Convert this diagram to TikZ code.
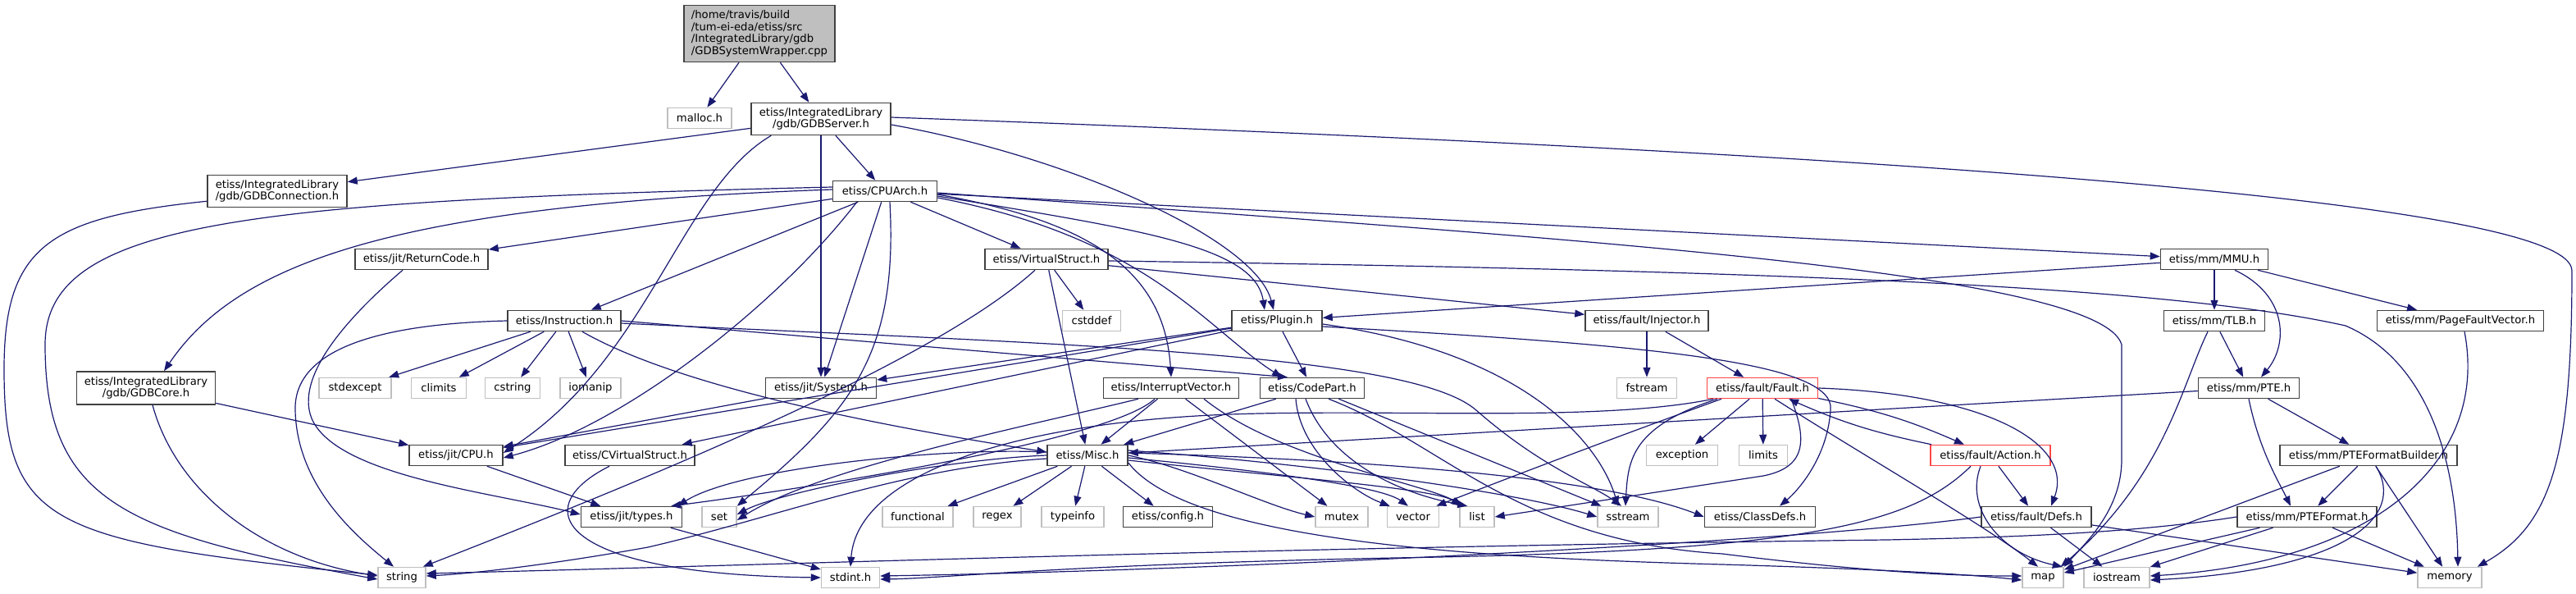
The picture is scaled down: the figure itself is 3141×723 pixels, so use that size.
\documentclass[tikz,border=0pt]{standalone}
\usepackage{fontspec}
\setmainfont{DejaVu Sans}
\usepackage{tikz}
\usetikzlibrary{arrows.meta}
\definecolor{dxblue}{RGB}{25,25,112}
\definecolor{rand}{RGB}{64,64,64}
\definecolor{sysrand}{RGB}{191,191,191}
\definecolor{wurzel}{RGB}{191,191,191}
\definecolor{trunc}{RGB}{255,70,70}
\tikzset{
  hdr/.style={draw=rand, fill=white, line width=1.5pt, minimum height=25pt,
              inner xsep=3pt, inner ysep=2pt, align=center,
              font=\fontsize{13.2}{14.6}\selectfont},
  sys/.style={hdr, draw=sysrand},
  trunchdr/.style={hdr, draw=trunc},
  dep/.style={draw=dxblue, line width=1.2pt, -{Triangle[length=12pt,width=9pt]}},
}

\begin{document}
\begin{tikzpicture}[x=1pt,y=-1pt]
  \useasboundingbox (0,0) rectangle (3141,723);
  % wurzel und projekt-header (pixelkoordinaten)
  \node[hdr,fill=wurzel,align=left,minimum width=184pt,minimum height=69pt] (root) at (926,41)
    {/home/travis/build\\/tum-ei-eda/etiss/src\\/IntegratedLibrary/gdb\\/GDBSystemWrapper.cpp};
  \node[hdr,minimum width=170pt,minimum height=39pt] (gdbserver) at (1001,145) {etiss/IntegratedLibrary\\/gdb/GDBServer.h};
  \node[hdr,minimum width=170pt,minimum height=39pt] (gdbconn) at (338,233) {etiss/IntegratedLibrary\\/gdb/GDBConnection.h};
  \node[hdr,minimum width=127pt] (cpuarch) at (1079,233) {etiss/CPUArch.h};
  \node[hdr,minimum width=162pt] (retcode) at (514,316) {etiss/jit/ReturnCode.h};
  \node[hdr,minimum width=150pt] (vstruct) at (1276,316) {etiss/VirtualStruct.h};
  \node[hdr,minimum width=131pt] (mmu) at (2700,316) {etiss/mm/MMU.h};
  \node[hdr,minimum width=138pt] (instr) at (688,391) {etiss/Instruction.h};
  \node[hdr,minimum width=110pt] (plugin) at (1557,391) {etiss/Plugin.h};
  \node[hdr,minimum width=150pt] (injector) at (2008,391) {etiss/fault/Injector.h};
  \node[hdr,minimum width=123pt] (tlb) at (2700,391) {etiss/mm/TLB.h};
  \node[hdr,minimum width=203pt] (pfv) at (3000,391) {etiss/mm/PageFaultVector.h};
  \node[hdr,minimum width=169pt,minimum height=40pt] (gdbcore) at (178,473) {etiss/IntegratedLibrary\\/gdb/GDBCore.h};
  \node[hdr,minimum width=135pt] (system) at (1001,473) {etiss/jit/System.h};
  \node[hdr,minimum width=165pt] (intvec) at (1428,473) {etiss/InterruptVector.h};
  \node[hdr,minimum width=127pt] (codepart) at (1600,473) {etiss/CodePart.h};
  \node[trunchdr,minimum width=135pt] (fault) at (2149,473) {etiss/fault/Fault.h};
  \node[hdr,minimum width=123pt] (pte) at (2742,473) {etiss/mm/PTE.h};
  \node[hdr,minimum width=114pt] (cpu) at (556,555) {etiss/jit/CPU.h};
  \node[hdr,minimum width=158pt] (cvstruct) at (768,555) {etiss/CVirtualStruct.h};
  \node[hdr,minimum width=98pt] (misc) at (1326,555) {etiss/Misc.h};
  \node[trunchdr,minimum width=146pt] (action) at (2427,555) {etiss/fault/Action.h};
  \node[hdr,minimum width=216pt] (pfb) at (2888,555) {etiss/mm/PTEFormatBuilder.h};
  \node[hdr,minimum width=123pt] (types) at (770,630) {etiss/jit/types.h};
  \node[hdr,minimum width=109pt] (config) at (1424,630) {etiss/config.h};
  \node[hdr,minimum width=135pt] (classdefs) at (2146,630) {etiss/ClassDefs.h};
  \node[hdr,minimum width=134pt] (defs) at (2483,630) {etiss/fault/Defs.h};
  \node[hdr,minimum width=170pt] (pteformat) at (2813,630) {etiss/mm/PTEFormat.h};
  % system-header
  \foreach \nm/\txt/\px/\py/\bw in {malloc/malloc.h/853/144/78, cstddef/cstddef/1331/391/71,
      stdexcept/stdexcept/433/473/88, climits/climits/535/473/67, cstring/cstring/625/473/67,
      iomanip/iomanip/720/473/74, fstream/fstream/2008/473/73, exception/exception/2051/555/87,
      limits/limits/2150/555/59, set/set/877/630/42, functional/functional/1119/630/86,
      regex/regex/1216/630/58, typeinfo/typeinfo/1308/630/76, mutex/mutex/1636/630/64,
      vector/vector/1723/630/63, list/list/1801/630/42, sstream/sstream/1985/630/74,
      string/string/490/704/58, stdint/stdint.h/1037/704/71, map/map/2491/704/50,
      iostream/iostream/2581/704/80, memory/memory/2987/704/78}{
    \node[sys,minimum width=\bw pt] (\nm) at (\px,\py) {\txt};}

  % gerade abhaengigkeiten
  \foreach \a/\b in {root/malloc, root/gdbserver, gdbserver/gdbconn, gdbserver/cpuarch,
      gdbserver/system, cpuarch/retcode, cpuarch/instr, cpuarch/system, cpuarch/vstruct,
      cpuarch/mmu, vstruct/cstddef, vstruct/misc, vstruct/injector, mmu/plugin, mmu/tlb,
      mmu/pfv, tlb/pte, pte/misc, pte/pfb, pfb/pteformat, pfb/map, pfb/memory,
      injector/fstream, injector/fault, fault/exception, fault/limits, action/defs,
      instr/stdexcept, instr/climits, instr/cstring, instr/iomanip, misc/functional,
      misc/regex, misc/typeinfo, misc/config, plugin/system, plugin/codepart,
      plugin/cvstruct, plugin/cpu, intvec/misc, codepart/misc, codepart/sstream,
      intvec/mutex, gdbcore/cpu, system/cpu, cpu/types, types/stdint, pteformat/map,
      pteformat/iostream, pteformat/memory, defs/iostream, defs/memory}{
    \draw[dep] (\a) -- (\b);}

  % gebogene abhaengigkeiten
  \draw[dep] ([xshift=25pt]gdbserver.south west) .. controls (830,230) and (790,440) .. ([yshift=3pt]cpu.east);
  \draw[dep] ([yshift=-7pt]gdbserver.east) .. controls (1300,190) and (1530,290) .. ([xshift=-4pt]plugin.north);
  \draw[dep] ([yshift=2pt]gdbserver.east) .. controls (2400,190) and (3136,250) .. (3136,330)
    .. controls (3136,560) and (3110,640) .. ([xshift=-6pt]memory.north east);
  \draw[dep] ([yshift=8pt]gdbconn.south west) .. controls (60,265) and (5,300) .. (5,450)
    .. controls (5,640) and (60,660) .. ([yshift=3pt]string.west);
  \draw[dep] ([yshift=5pt]cpuarch.west) .. controls (300,245) and (55,270) .. (55,420)
    .. controls (55,610) and (150,650) .. ([yshift=-2pt]string.west);
  \draw[dep] ([yshift=2pt]cpuarch.west) .. controls (480,250) and (290,320) .. ([xshift=22pt]gdbcore.north);
  \draw[dep] ([xshift=30pt]cpuarch.south west) .. controls (950,370) and (760,520) .. ([yshift=-3pt]cpu.east);
  \draw[dep] ([xshift=6pt]cpuarch.south) .. controls (1095,430) and (1040,500) .. (set.north east);
  \draw[dep] ([yshift=-4pt]cpuarch.east) .. controls (1330,270) and (1420,330) .. (intvec.north);
  \draw[dep] ([yshift=-6pt]cpuarch.east) .. controls (1390,280) and (1530,300) .. ([xshift=-15pt]plugin.north);
  \draw[dep] ([yshift=-8pt]cpuarch.east) .. controls (1400,290) and (1470,400) .. ([xshift=-37pt]codepart.north);
  \draw[dep] ([yshift=-2pt]cpuarch.east) .. controls (1900,290) and (2560,330) .. (2587,420) -- (2587,560)
    .. controls (2587,620) and (2545,660) .. (map.north east);
  \draw[dep] ([xshift=-14pt]vstruct.south) .. controls (1140,440) and (800,580) .. ([xshift=-4pt]string.north east);
  \draw[dep] ([yshift=-2pt]vstruct.east) .. controls (2200,330) and (2650,350) .. (2860,397)
    .. controls (2960,440) and (2995,560) .. ([xshift=10pt]memory.north);
  \draw[dep] ([xshift=25pt]mmu.south) .. controls (2790,360) and (2790,420) .. ([xshift=15pt]pte.north);
  \draw[dep] ([xshift=-8pt]tlb.south) .. controls (2660,470) and (2640,580) .. ([xshift=-4pt]map.north east);
  \draw[dep] ([xshift=5pt]pfv.south) .. controls (3035,560) and (2900,685) .. ([yshift=2pt]iostream.east);
  \draw[dep] (pte.south) .. controls (2755,550) and (2780,590) .. ([xshift=-20pt]pteformat.north);
  \draw[dep] ([xshift=9pt]pfb.south) .. controls (2935,630) and (2860,695) .. ([yshift=-3pt]iostream.east);
  \draw[dep] (pteformat.west) .. controls (2600,650) and (2450,655) .. (2300,658)
    .. controls (1500,668) and (900,690) .. ([yshift=5pt]string.east);
  \draw[dep] (defs.west) .. controls (2200,660) and (1500,695) .. ([yshift=2pt]stdint.east);
  \draw[dep] ([xshift=-24pt]action.south) .. controls (2330,640) and (2200,672) .. (1700,680)
    .. controls (1300,688) and (1150,705) .. ([yshift=-2pt]stdint.east);
  \draw[dep] ([xshift=-12pt]action.south) .. controls (2395,620) and (2440,675) .. ([xshift=-2pt]map.north east);
  \draw[dep] (fault) to[bend left=6] (action);
  \draw[dep] (action) to[bend left=6] (fault);
  \draw[dep] (fault.east) .. controls (2420,480) and (2530,540) .. ([xshift=18pt]defs.north);
  \draw[dep] ([xshift=35pt]fault.south) .. controls (2205,540) and (2200,570) .. (2150,580) -- (list.east);
  \draw[dep] ([xshift=-55pt]fault.south) .. controls (1990,520) and (1985,560) .. ([xshift=-3pt]sstream.north);
  \draw[dep] ([xshift=-50pt]fault.south) .. controls (1950,540) and (1820,590) .. ([xshift=-4pt]vector.north east);
  \draw[dep] ([xshift=-60pt]fault.south) .. controls (1950,515) and (1700,498) .. (1500,505)
    .. controls (1230,515) and (1045,580) .. (stdint.north);
  \draw[dep] ([xshift=15pt]fault.south) .. controls (2280,560) and (2420,640) .. ([xshift=-6pt]map.north);
  \draw[dep] ([yshift=-4pt]plugin.east) .. controls (1860,430) and (1950,540) .. ([xshift=-12pt]sstream.north);
  \draw[dep] ([yshift=-7pt]plugin.east) .. controls (2000,420) and (2240,440) .. (2232,500)
    .. controls (2228,560) and (2190,600) .. ([xshift=24pt]classdefs.north);
  \draw[dep] ([xshift=-40pt]intvec.south) .. controls (1250,520) and (1000,570) .. ([yshift=-4pt]set.east);
  \draw[dep] ([xshift=40pt]intvec.south) .. controls (1560,560) and (1740,590) .. ([xshift=4pt]list.north west);
  \draw[dep] ([xshift=-20pt]intvec.south) .. controls (1350,540) and (950,600) .. ([xshift=-14pt]types.north east);
  \draw[dep] ([xshift=-20pt]codepart.south) .. controls (1585,550) and (1650,600) .. ([xshift=4pt]vector.north west);
  \draw[dep] ([xshift=-8pt]codepart.south) .. controls (1620,560) and (1700,600) .. ([xshift=10pt]list.north west);
  \draw[dep] ([xshift=20pt]codepart.south) .. controls (1760,540) and (1850,660) .. (2100,675)
    .. controls (2300,700) and (2400,702) .. ([yshift=2pt]map.west);
  \draw[dep] ([yshift=-4pt]misc.west) .. controls (1100,570) and (950,630) .. (790,667)
    .. controls (650,692) and (560,700) .. ([yshift=2pt]string.east);
  \draw[dep] (misc.west) .. controls (1150,560) and (950,600) .. ([yshift=3pt]set.east);
  \draw[dep] ([yshift=4pt]misc.west) .. controls (1150,545) and (900,570) .. ([xshift=-6pt]types.north east);
  \draw[dep] (misc.east) .. controls (1450,570) and (1540,615) .. (mutex.west);
  \draw[dep] ([yshift=-3pt]misc.east) .. controls (1500,570) and (1680,590) .. ([xshift=-6pt]vector.north);
  \draw[dep] ([yshift=-6pt]misc.east) .. controls (1550,580) and (1750,595) .. ([xshift=2pt]list.north west);
  \draw[dep] ([yshift=6pt]misc.east) .. controls (1600,565) and (1850,600) .. (sstream.west);
  \draw[dep] ([yshift=3pt]misc.east) .. controls (1650,560) and (1950,580) .. (classdefs.west);
  \draw[dep] ([yshift=-9pt]misc.east) .. controls (1450,660) and (1800,680) .. (2100,688)
    .. controls (2300,694) and (2400,700) .. ([yshift=-3pt]map.west);
  \draw[dep] ([xshift=-23pt]retcode.south) .. controls (420,390) and (360,460) .. (380,510)
    .. controls (410,580) and (600,600) .. ([yshift=3pt]types.west);
  \draw[dep] (instr.west) .. controls (450,395) and (358,430) .. (360,500)
    .. controls (362,590) and (430,650) .. ([xshift=-10pt]string.north);
  \draw[dep] (instr.east) -- ([xshift=-30pt]codepart.north);
  \draw[dep] ([yshift=-3pt]instr.east) .. controls (1300,420) and (1720,430) .. (1800,500)
    .. controls (1880,570) and (1940,590) .. ([xshift=-8pt]sstream.north);
  \draw[dep] ([xshift=22pt]instr.south) .. controls (790,450) and (950,500) .. ([yshift=4pt]misc.west);
  \draw[dep] ([xshift=8pt]gdbcore.south) .. controls (215,600) and (320,680) .. ([yshift=2pt]string.west);
  \draw[dep] ([xshift=-25pt]cvstruct.south) .. controls (640,620) and (680,700) .. (stdint.west);
\end{tikzpicture}
\end{document}
